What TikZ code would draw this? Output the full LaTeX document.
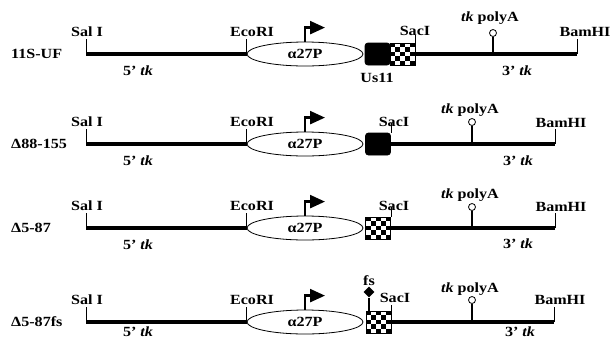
\documentclass[tikz,border=0pt]{standalone}
\usepackage{fontspec}
\setmainfont{Liberation Serif}[FakeStretch=1.15]
\usetikzlibrary{shapes.geometric,arrows.meta}
\tikzset{
  dna/.style={line width=4.5pt},
  tick/.style={line width=0.8pt},
  stem/.style={line width=2.4pt},
  lab/.style={font=\fontsize{14}{16}\selectfont\bfseries, inner sep=0pt},
  rowlab/.style={lab, anchor=west},
  promoter/.style={ellipse, draw, line width=0.8pt, fill=white, minimum width=116pt,
    minimum height=24pt, inner sep=0pt, font=\fontsize{14}{16}\selectfont\bfseries},
  promo/.style={line width=2.4pt, -{Triangle[length=15pt,width=13pt]}},
  solidbox/.style={draw, fill=black, line width=0.8pt, rounded corners=3pt,
    minimum width=25pt, minimum height=22pt, inner sep=0pt},
  checkbox/.style={draw, line width=0.8pt, minimum width=25pt, minimum height=22pt,
    inner sep=0pt, path picture={
      \foreach \i in {0,...,4}{\foreach \j in {0,...,4}{
        \pgfmathtruncatemacro\parity{mod(\i+\j,2)}
        \ifnum\parity=0
          \fill (path picture bounding box.north west) ++(\i*5,\j*4.4) rectangle ++(5,4.4);
        \fi}}}},
  polyring/.style={circle, draw, line width=0.8pt, fill=white, minimum size=7pt, inner sep=0pt},
  fsmark/.style={diamond, fill=black, minimum size=11pt, inner sep=0pt},
}
\begin{document}
\begin{tikzpicture}[x=1pt,y=-1pt]
\useasboundingbox (0,0) rectangle (610,341);

% shared left part of each construct: SalI, 5' tk, EcoRI and the alpha27 promoter
\foreach \r/\y/\d in {1/54/17,2/144/17,3/228/17,4/322/10}{
  \coordinate (sal\r) at (86,\y);
  \node[promoter] (p\r) at (305,\y) {α27P};
  \draw[dna] (sal\r) -- (p\r.west);
  \draw[tick] (sal\r) -- ++(0,-15);
  \draw[tick] (p\r.west) -- ++(0,-15);
  \node[lab] (salL\r) at (87,\y-22) {Sal I};
  \node[lab] (ecoL\r) at (252,\y-22) {EcoRI};
  \node[lab] (tk5\r) at (138,\y+\d) {5’ \textit{tk}};
  \draw[promo] (p\r.north) |- ++(20,-14);
}

% construct 11S-UF
\node[rowlab] (n1) at (11,54) {11S-UF};
\node[solidbox] (u1) at (377.5,54) {};
\node[checkbox] (c1) at (402.5,54) {};
\coordinate (bam1) at (577,54);
\coordinate (pa1) at (493,54);
\draw[dna] (c1.east) -- (bam1);
\draw[tick] (c1.north east) -- ++(0,-8);
\node[lab] (sacL1) at (415,31) {SacI};
\node[polyring] (ring1) at (493,33) {};
\draw[stem] (pa1) -- (ring1.south);
\node[lab] (paL1) at (490,18) {\textit{tk} polyA};
\draw[tick] (bam1) -- ++(0,-15);
\node[lab] (bamL1) at (585,32) {BamHI};
\node[lab] (tk3a) at (517,71) {3’ \textit{tk}};
\node[lab] (us1) at (377,78) {Us11};

% construct Delta88-155
\node[rowlab] (n2) at (11,144) {Δ88-155};
\node[solidbox] (u2) at (378,144) {};
\coordinate (bam2) at (555,144);
\coordinate (pa2) at (472,144);
\draw[dna] (u2.east) -- (bam2);
\draw[tick] (u2.north east) -- ++(0,-10);
\node[lab] (sacL2) at (394,122) {SacI};
\node[polyring] (ring2) at (472,122) {};
\draw[stem] (pa2) -- (ring2.south);
\node[lab] (paL2) at (470,110) {\textit{tk} polyA};
\draw[tick] (bam2) -- ++(0,-15);
\node[lab] (bamL2) at (561,123) {BamHI};
\node[lab] (tk3b) at (518,161) {3’ \textit{tk}};

% construct Delta5-87
\node[rowlab] (n3) at (11,228) {Δ5-87};
\node[checkbox] (c3) at (378,228) {};
\coordinate (bam3) at (555,228);
\coordinate (pa3) at (472,228);
\draw[dna] (c3.east) -- (bam3);
\draw[tick] (c3.north east) -- ++(0,-10);
\node[lab] (sacL3) at (394,206) {SacI};
\node[polyring] (ring3) at (472,207) {};
\draw[stem] (pa3) -- (ring3.south);
\node[lab] (paL3) at (470,195) {\textit{tk} polyA};
\draw[tick] (bam3) -- ++(0,-15);
\node[lab] (bamL3) at (561,207) {BamHI};
\node[lab] (tk3c) at (518,244) {3’ \textit{tk}};

% construct Delta5-87fs
\node[rowlab] (n4) at (11,322) {Δ5-87fs};
\node[checkbox] (c4) at (378.5,322) {};
\coordinate (bam4) at (554,322);
\coordinate (pa4) at (472,322);
\draw[dna] (c4.east) -- (bam4);
\draw[tick] (c4.north east) -- ++(0,-6);
\node[lab] (sacL4) at (395,298) {SacI};
\node[fsmark] (fs4) at (369,292) {};
\draw[stem] (c4.north west -| fs4) -- (fs4.south);
\node[lab] (fsL4) at (369,281) {fs};
\node[polyring] (ring4) at (472,300) {};
\draw[stem] (pa4) -- (ring4.south);
\node[lab] (paL4) at (470,289) {\textit{tk} polyA};
\draw[tick] (bam4) -- ++(0,-15);
\node[lab] (bamL4) at (560,300) {BamHI};
\node[lab] (tk3d) at (520,332) {3’ \textit{tk}};
\end{tikzpicture}
\end{document}
